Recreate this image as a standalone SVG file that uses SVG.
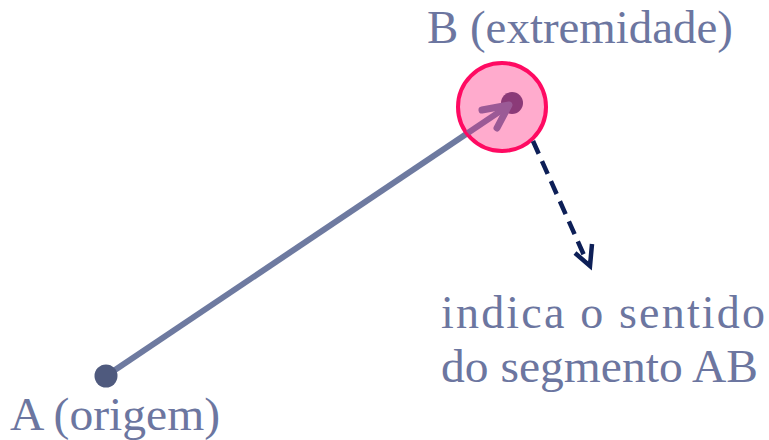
<svg xmlns="http://www.w3.org/2000/svg" width="769" height="440" viewBox="0 0 769 440">
<style>
.t{font-family:"Liberation Serif","Times New Roman",serif;font-size:46px;fill:#6c76a0}
</style>
<defs>
<clipPath id="cB"><circle cx="502" cy="107" r="43"/></clipPath>
</defs>
<rect width="769" height="440" fill="#ffffff"/>
<g id="connectors">
<line x1="106" y1="376" x2="508" y2="106" stroke="#6e7aa0" stroke-width="6" stroke-linecap="round"/>
</g>
<g id="nodeB">
<circle cx="502" cy="107" r="44" fill="#ffabcd" stroke="#ff0a62" stroke-width="4"/>
<g clip-path="url(#cB)">
<line x1="106" y1="376" x2="508" y2="106" stroke="#9b5a96" stroke-width="6" stroke-linecap="round"/>
</g>
<circle cx="512" cy="103" r="11" fill="#8b3a78"/>
<polyline points="482,110 509,105 497,128" fill="none" stroke="#9b5a96" stroke-width="7" stroke-linecap="round" stroke-linejoin="round"/>
</g>
<g id="nodeA">
<circle cx="106" cy="376" r="11.5" fill="#4f5a7e"/>
</g>
<g id="direction">
<line x1="533" y1="141" x2="587" y2="262" stroke="#0d1f57" stroke-width="4.5" stroke-dasharray="14,8"/>
<polyline points="575,253 590,266 592,244" fill="none" stroke="#0d1f57" stroke-width="4.5" stroke-linejoin="miter"/>
</g>
<g id="labels">
<text class="t" x="427" y="43" textLength="306" lengthAdjust="spacingAndGlyphs">B (extremidade)</text>
<text class="t" x="441" y="328" textLength="324" lengthAdjust="spacing">indica o sentido</text>
<text class="t" x="441" y="382" textLength="317" lengthAdjust="spacingAndGlyphs">do segmento AB</text>
<text class="t" x="10" y="430" textLength="210" lengthAdjust="spacingAndGlyphs">A (origem)</text>
</g>
</svg>
